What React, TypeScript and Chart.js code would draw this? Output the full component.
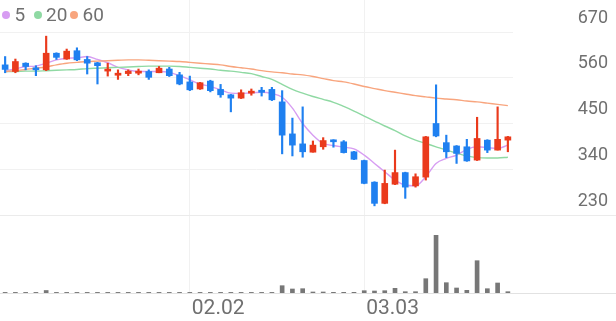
import React, { useEffect, useRef } from "react";
import { Chart, registerables } from "chart.js";

Chart.register(...registerables);

// ---- data ----
const DATES = [
  "01.07", "01.08", "01.09", "01.12", "01.13", "01.14", "01.15", "01.16", "01.19", "01.20",
  "01.21", "01.22", "01.23", "01.26", "01.27", "01.28", "01.29", "01.30", "02.02", "02.03",
  "02.04", "02.05", "02.06", "02.09", "02.10", "02.11", "02.12", "02.13", "02.19", "02.20",
  "02.23", "02.24", "02.25", "02.26", "02.27", "03.03", "03.04", "03.05", "03.06", "03.09",
  "03.10", "03.11", "03.12", "03.13", "03.16", "03.17", "03.18", "03.19", "03.20", "03.23",
];
const OPEN = [
  591, 575, 595, 584, 579, 619, 605, 625, 604, 596,
  576, 566, 570, 571, 575, 572, 581, 567, 550, 533,
  552, 532, 519, 511, 523, 530, 532, 502, 425, 401,
  381, 394, 410, 406, 382, 361, 309, 258, 304, 332,
  300, 321, 450, 404, 396, 394, 362, 410, 386, 410,
];
const HIGH = [
  611, 605, 596, 589, 660, 620, 629, 632, 611, 597,
  595, 579, 579, 581, 579, 587, 585, 573, 564, 549,
  554, 544, 520, 531, 533, 537, 537, 529, 463, 490,
  408, 416, 411, 409, 383, 362, 310, 338, 386, 333,
  329, 419, 543, 422, 397, 412, 465, 411, 490, 419,
];
const LOW = [
  572, 572, 579, 565, 577, 604, 604, 601, 569, 545,
  564, 556, 565, 567, 556, 572, 563, 543, 529, 532,
  526, 513, 478, 510, 518, 516, 505, 377, 372, 369,
  381, 388, 393, 379, 363, 305, 252, 257, 303, 270,
  297, 314, 418, 368, 354, 359, 361, 380, 386, 382,
];
const CLOSE = [
  580, 599, 587, 579, 619, 609, 624, 603, 595, 589,
  580, 571, 576, 576, 561, 583, 565, 545, 531, 548,
  529, 519, 511, 524, 526, 525, 507, 422, 398, 382,
  398, 409, 406, 380, 364, 306, 258, 306, 332, 297,
  322, 418, 420, 382, 378, 360, 414, 386, 412, 418,
];
const MA5 = [
  577, 581, 587, 588, 595, 603, 607, 608, 611, 604,
  596, 585, 579, 575, 575, 575, 573, 565, 555, 545,
  539, 531, 523, 522, 524, 525, 522, 513, 487, 450,
  422, 402, 397, 393, 389, 374, 354, 334, 314, 302,
  300, 322, 354, 366, 374, 388, 394, 392, 390, 398,
];
const MA20 = [
  575, 575, 576, 576, 577, 578, 579, 580, 582, 583,
  584, 585, 586, 587, 588, 588, 588, 587, 585, 583,
  581, 578, 576, 573, 570, 563, 556, 544, 532, 523,
  515, 508, 501, 491, 480, 468, 456, 444, 433, 420,
  410, 402, 394, 386, 379, 372, 368, 367, 367, 369,
];
const MA60 = [
  575, 577, 580, 583, 586, 591, 595, 597, 599, 600,
  601, 602, 603, 603, 602, 601, 600, 599, 597, 595,
  593, 591, 587, 584, 581, 577, 574, 572, 569, 567,
  563, 558, 553, 550, 545, 539, 534, 529, 525, 521,
  517, 514, 511, 509, 507, 504, 502, 499, 496, 493,
];
const VOLUME = [
  60, 60, 60, 60, 250, 60, 60, 60, 60, 60,
  60, 60, 60, 60, 60, 60, 60, 60, 60, 60,
  60, 60, 60, 60, 60, 60, 60, 730, 400, 430,
  100, 100, 70, 70, 70, 230, 200, 230, 470, 130,
  130, 1430, 5770, 1030, 500, 270, 3230, 430, 1000, 130,
];
const PRICE_TICKS = [230, 340, 450, 560, 670];
const SHOWN_DATES = ["02.02", "03.03"];
const LEGEND = [
  { label: "5", color: "#d79df2" },
  { label: "20", color: "#8fd9a3" },
  { label: "60", color: "#f8a57e" },
];

// ---- styles / scale settings ----
const RED = "#ea3a1c";
const BLUE = "#1f80f0";
const TEXT = "#707070";
const GRID = "#f1f1f1";
const FONT = "Roboto, 'Noto Sans', sans-serif";
const PRICE_MIN = 42.46;
const PRICE_MAX = 746.94;
const VOL_MAX = 29300;

const separatorPlugin = {
  id: "separators",
  beforeDatasetsDraw(chart: any) {
    const { ctx, chartArea, scales, width } = chart;
    const yTop = Math.round(scales.y.getPixelForValue(230)) + 0.5;
    const yBot = Math.round(chartArea.bottom) + 0.5;
    ctx.save();
    ctx.lineWidth = 1;
    ctx.strokeStyle = "#ebebeb";
    ctx.beginPath();
    ctx.moveTo(0, yTop);
    ctx.lineTo(width, yTop);
    ctx.stroke();
    ctx.strokeStyle = "#e2e2e2";
    ctx.beginPath();
    ctx.moveTo(0, yBot);
    ctx.lineTo(width, yBot);
    ctx.stroke();
    ctx.restore();
  },
};

export default function App() {
  const ref = useRef<HTMLCanvasElement>(null);

  useEffect(() => {
    const colors = OPEN.map((o, i) => (CLOSE[i] >= o ? RED : BLUE));
    const line = (label: string, data: number[], color: string) => ({
      type: "line" as const,
      label,
      data,
      borderColor: color,
      backgroundColor: color,
      borderWidth: 1.4,
      pointRadius: 0,
      tension: 0.4,
      cubicInterpolationMode: "monotone" as const,
      yAxisID: "y",
      order: 5,
    });
    const chart = new Chart(ref.current!, {
      type: "bar",
      data: {
        labels: DATES,
        datasets: [
          line("60", MA60, LEGEND[2].color),
          line("20", MA20, LEGEND[1].color),
          line("5", MA5, LEGEND[0].color),
          {
            type: "bar",
            label: "volume",
            data: VOLUME,
            backgroundColor: "#777777",
            barThickness: 4,
            grouped: false,
            yAxisID: "yVol",
            order: 4,
          } as any,
          {
            type: "bar",
            label: "wick",
            data: LOW.map((l, i) => [l, HIGH[i]]),
            backgroundColor: colors,
            barThickness: 1.5,
            grouped: false,
            yAxisID: "y",
            order: 2,
          } as any,
          {
            type: "bar",
            label: "body",
            data: OPEN.map((o, i) => [o, CLOSE[i]]),
            backgroundColor: colors,
            barThickness: 6,
            minBarLength: 2,
            grouped: false,
            yAxisID: "y",
            order: 1,
          } as any,
        ],
      },
      options: {
        animation: false,
        responsive: false,
        layout: { padding: { left: 0, right: 8, top: 0, bottom: 0 }, autoPadding: false },
        plugins: { legend: { display: false }, tooltip: { enabled: false } },
        scales: {
          x: {
            type: "category",
            offset: true,
            grid: {
              offset: false,
              drawTicks: false,
              color: (c: any) => (SHOWN_DATES.includes(DATES[c.index]) ? GRID : "rgba(0,0,0,0)"),
            },
            border: { display: false },
            ticks: {
              autoSkip: false,
              maxRotation: 0,
              minRotation: 0,
              align: "start",
              labelOffset: 2,
              padding: 3,
              color: TEXT,
              font: { family: FONT, size: 21 },
              callback: (_v: any, i: number) => (SHOWN_DATES.includes(DATES[i]) ? DATES[i] : ""),
            },
            afterFit: (s: any) => {
              s.height = 28;
              s.paddingLeft = 0;
              s.paddingRight = 0;
            },
          },
          y: {
            position: "right",
            min: PRICE_MIN,
            max: PRICE_MAX,
            afterBuildTicks: (s: any) => {
              s.ticks = PRICE_TICKS.map((v) => ({ value: v }));
            },
            grid: { color: GRID, drawTicks: false },
            border: { display: false },
            ticks: {
              crossAlign: "far",
              labelOffset: -14,
              padding: 0,
              color: TEXT,
              font: { family: FONT, size: 18 },
              callback: (v: any) => String(v),
            },
            afterFit: (s: any) => {
              s.width = 95;
              s.paddingTop = 0;
              s.paddingBottom = 0;
            },
          },
          yVol: { display: false, min: 0, max: VOL_MAX },
        },
      } as any,
      plugins: [separatorPlugin],
    });
    return () => chart.destroy();
  }, []);

  const circleLeft = [1.5, 34, 70];
  const textLeft = [14.5, 46, 82.5];
  return (
    <div style={{ position: "fixed", left: 0, top: 0, width: 616, height: 321, background: "#fff" }}>
      <canvas ref={ref} width={616} height={321} style={{ display: "block" }} />
      {LEGEND.map((l, i) => (
        <React.Fragment key={l.label}>
          <span
            style={{
              position: "absolute",
              left: circleLeft[i],
              top: 11,
              width: 8,
              height: 8,
              borderRadius: "50%",
              background: l.color,
            }}
          />
          <span
            style={{
              position: "absolute",
              left: textLeft[i],
              top: 0,
              lineHeight: "30px",
              fontFamily: FONT,
              fontSize: 19,
              color: TEXT,
            }}
          >
            {l.label}
          </span>
        </React.Fragment>
      ))}
    </div>
  );
}
